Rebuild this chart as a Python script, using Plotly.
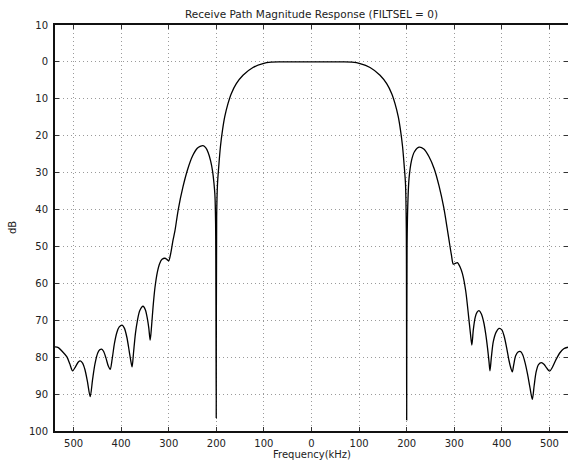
import plotly.graph_objects as go

# Receive-path magnitude response, sampled points (frequency in kHz, gain in dB)
freq_khz = [
    -539, -532, -524, -514, -508, -502, -496, -490, -486, -481, -476, -471, -465,
    -460, -455, -449, -445, -441, -437, -432, -427, -423, -419, -414, -409, -404,
    -398, -393, -388, -383, -380, -377, -374, -370, -366, -361, -354, -349, -345,
    -342, -339, -336, -333, -329, -324, -319, -314, -308, -304, -300, -296, -291,
    -287, -280, -270, -260, -250, -240, -234, -228, -222, -217, -212, -208, -205,
    -203, -201.5, -200.2, -199.3, -197.5, -195, -191.4, -187, -182.4, -175.5,
    -168.6, -158, -144, -123, -102, -85, -67, -40, 0, 40, 67, 85,
    102, 123, 144, 158, 168.6, 175.5, 182.4, 187, 191.4, 195, 197.5, 199.2, 200,
    200.8, 202.5, 205, 210, 216, 226, 236, 247, 258, 268, 278, 285, 289, 294, 298,
    302, 306.7, 312, 317, 324, 330, 334, 337, 340, 344, 348, 352, 357, 362, 366,
    370, 373, 375, 378, 382, 388, 394, 400, 405, 410, 415, 419, 422, 425, 429,
    434, 439.6, 444, 449, 454, 459, 464, 468, 472, 477, 483, 489, 494, 500.4, 506,
    514, 522, 530, 539,
]
gain_db = [
    -77.2, -77.4, -78.4, -79.9, -81.8, -83.7, -82.6, -81.3, -81.0, -81.6, -83.4, -86.5, -90.7,
    -86.0, -81.8, -78.8, -78.0, -77.8, -78.4, -80.2, -82.4, -83.3, -80.6, -76.2, -73.3, -71.8,
    -71.3, -72.2, -74.6, -78.4, -80.8, -82.6, -78.8, -73.6, -70.2, -67.4, -66.2, -67.2, -69.5,
    -72.0, -75.4, -71.5, -66.5, -61.2, -57.0, -54.6, -53.5, -53.2, -53.5, -53.9, -52.0, -48.3,
    -45.8, -40.0, -33.8, -29.0, -25.5, -23.4, -22.9, -22.7, -23.3, -24.6, -26.8, -29.5, -32.8,
    -36.0, -44.0, -96.5, -42.0, -33.0, -28.5, -23.0, -18.5, -14.9, -11.3,
    -8.6, -5.9, -3.6, -1.5, -0.45, -0.08, 0.0, 0.0, 0.0, 0.0, 0.0, -0.08,
    -0.45, -1.5, -3.6, -5.9, -8.6, -11.3, -14.9, -18.5, -23.0, -28.5, -33.0, -45.0, -97.0,
    -50.0, -38.0, -31.5, -26.8, -24.4, -23.1, -23.6, -25.7, -29.0, -33.6, -39.5, -45.0, -48.3, -52.3, -54.8,
    -54.6, -54.4, -55.5, -57.3, -62.0, -68.8, -73.6, -76.7, -72.6, -69.2, -67.8, -67.4, -68.3, -70.6, -73.6,
    -77.6, -81.2, -83.7, -80.0, -75.8, -73.2, -72.2, -72.6, -74.4, -77.4, -80.9, -83.0, -84.0, -82.0, -79.6,
    -78.6, -78.5, -79.4, -81.6, -84.6, -88.2, -91.4, -87.6, -84.0, -82.0, -81.5, -82.0, -82.9, -83.8, -82.8,
    -80.6, -78.8, -77.7, -77.3,
]

x_ticks = [-500, -400, -300, -200, -100, 0, 100, 200, 300, 400, 500]
x_tick_text = ["500", "400", "300", "200", "100", "0", "100", "200", "300", "400", "500"]
y_ticks = [10, 0, -10, -20, -30, -40, -50, -60, -70, -80, -90, -100]
y_tick_text = ["10", "0", "10", "20", "30", "40", "50", "60", "70", "80", "90", "100"]

FONT = "DejaVu Sans"
W, H = 568, 465
L, R, T, B = 55, 0, 25, 34

fig = go.Figure()
fig.add_trace(go.Scatter(
    x=freq_khz, y=gain_db, mode="lines",
    line=dict(color="black", width=1.3, shape="spline", smoothing=0.8),
    hoverinfo="skip", showlegend=False,
))
# invisible trace on the right-hand axis so its inside ticks are drawn
fig.add_trace(go.Scatter(
    x=[freq_khz[0]], y=[gain_db[0]], yaxis="y2", mode="lines",
    line=dict(width=0), hoverinfo="skip", showlegend=False,
))

grid_dash = "1px,3px"
fig.update_layout(
    width=W, height=H,
    margin=dict(l=L, r=R, t=T, b=B, pad=0),
    paper_bgcolor="white", plot_bgcolor="white",
    font=dict(family=FONT, size=10, color="#222"),
    xaxis=dict(
        range=[-539, 539], tickmode="array", tickvals=x_ticks, ticktext=x_tick_text,
        ticks="inside", ticklen=4, tickwidth=1, tickcolor="#333",
        showline=True, linecolor="#111", linewidth=2, mirror="ticks",
        showgrid=True, gridcolor="#9a9a9a", gridwidth=1, griddash=grid_dash,
        zeroline=False, ticklabelstandoff=2,
    ),
    yaxis=dict(
        range=[-100, 10], tickmode="array", tickvals=y_ticks, ticktext=y_tick_text,
        ticks="inside", ticklen=4, tickwidth=1, tickcolor="#333",
        showline=True, linecolor="#111", linewidth=2, mirror=False,
        showgrid=True, gridcolor="#9a9a9a", gridwidth=1, griddash=grid_dash,
        zeroline=False, ticklabelstandoff=3,
    ),
    yaxis2=dict(
        range=[-100, 10], overlaying="y", side="right", tickmode="array",
        tickvals=y_ticks, ticks="inside", ticklen=4, tickwidth=1, tickcolor="#333",
        showticklabels=False, showline=False, showgrid=False, zeroline=False,
    ),
    annotations=[
        dict(text="Receive Path Magnitude Response (FILTSEL = 0)", xref="paper", yref="paper",
             x=0.5, y=1 + 11 / (H - T - B), xanchor="center", yanchor="middle",
             showarrow=False, font=dict(family=FONT, size=10.5, color="#222")),
        dict(text="Frequency(kHz)", xref="paper", yref="paper",
             x=0.5, y=-24 / (H - T - B), xanchor="center", yanchor="middle",
             showarrow=False, font=dict(family=FONT, size=10, color="#222")),
        dict(text="dB", xref="paper", yref="paper", textangle=-90,
             x=-43 / (W - L - R), y=0.5, xanchor="center", yanchor="middle",
             showarrow=False, font=dict(family=FONT, size=10, color="#222")),
    ],
)

fig.write_html("out.html")
